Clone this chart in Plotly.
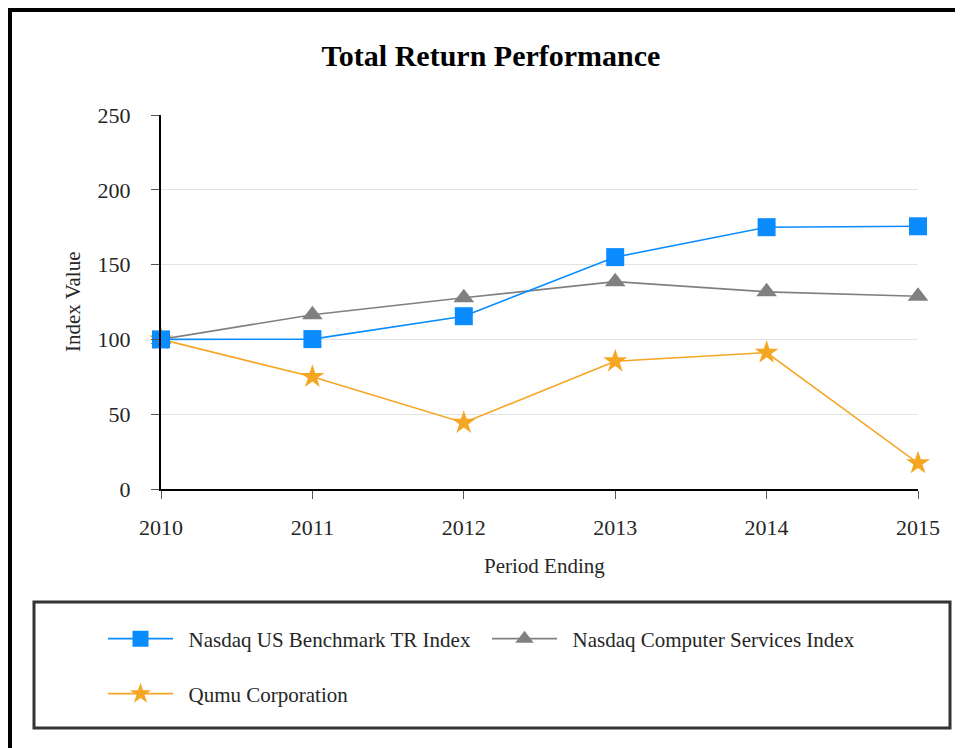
import plotly.graph_objects as go

years = [2010, 2011, 2012, 2013, 2014, 2015]
benchmark = [100, 100.2, 115.5, 155.0, 175.0, 175.6]
computer_services = [100, 116.5, 127.8, 138.6, 131.8, 128.8]
qumu = [100, 75.0, 44.3, 85.4, 91.2, 17.3]
y_ticks = [0, 50, 100, 150, 200, 250]

FONT = "Liberation Serif"
OFF = 8  # page body margin
W, H = 963, 748
# plot area in page pixels: x 161..918, y 115..489
L = 161 - OFF
R = W - (918 - OFF)
T = 115 - OFF
B = H - (489 - OFF)
PW, PH = W - L - R, H - T - B


def px(x):
    return (x - OFF - L) / PW


def py(y):
    return (H - B - (y - OFF)) / PH


def cx(x):
    return (x - OFF) / W


def cy(y):
    return 1 - (y - OFF) / H


NB = "\u00a0\u00a0"
fig = go.Figure()
# drawn bottom-to-top: Qumu, Computer Services, Benchmark (benchmark on top)
fig.add_trace(go.Scatter(
    x=years, y=qumu, name=NB + "Qumu Corporation", mode="lines+markers",
    line=dict(color="#f5a623", width=1.6),
    marker=dict(symbol="star", size=18, color="#f5a623"), legend="legend3"))
fig.add_trace(go.Scatter(
    x=years, y=computer_services, name=NB + "Nasdaq Computer Services Index", mode="lines+markers",
    line=dict(color="#808080", width=1.6),
    marker=dict(symbol="triangle-up", size=18, color="#808080"), legend="legend2"))
fig.add_trace(go.Scatter(
    x=years, y=benchmark, name=NB + "Nasdaq US Benchmark TR Index", mode="lines+markers",
    line=dict(color="#0a8cff", width=1.6),
    marker=dict(symbol="square", size=18, color="#0a8cff"), legend="legend"))

shapes = [
    # outer frame (left and top edges)
    dict(type="line", xref="paper", yref="paper", x0=px(10), x1=px(10), y0=py(8), y1=py(770),
         line=dict(color="black", width=4)),
    dict(type="line", xref="paper", yref="paper", x0=px(8), x1=px(990), y0=py(10), y1=py(10),
         line=dict(color="black", width=4)),
    # legend box
    dict(type="rect", xref="paper", yref="paper", x0=px(34), x1=px(950), y0=py(602), y1=py(728),
         line=dict(color="#333333", width=3)),
]

annotations = [
    dict(text="Period Ending", xref="paper", yref="paper", x=px(544), y=py(566),
         xanchor="center", yanchor="middle", showarrow=False,
         font=dict(family=FONT, size=21, color="#262626")),
    dict(text="Index Value", xref="paper", yref="paper", x=px(73), y=py(302),
         xanchor="center", yanchor="middle", showarrow=False, textangle=-90,
         font=dict(family=FONT, size=21, color="#262626")),
]


def leg(xp, yp):
    return dict(orientation="h", xref="container", yref="container", x=cx(xp), y=cy(yp),
                xanchor="left", yanchor="middle", itemwidth=65,
                font=dict(family=FONT, size=21, color="#262626"),
                bgcolor="rgba(0,0,0,0)", borderwidth=0)


fig.update_layout(
    width=W, height=H,
    margin=dict(l=L, r=R, t=T, b=B, autoexpand=False),
    paper_bgcolor="white", plot_bgcolor="white",
    font=dict(family=FONT, size=20, color="#262626"),
    title=dict(text="<b>Total Return Performance</b>", x=cx(491), xanchor="center",
               y=cy(55), yanchor="middle", font=dict(family=FONT, size=30, color="black")),
    xaxis=dict(range=[2010, 2015], tickvals=years, ticktext=[str(y) for y in years],
               showline=True, linecolor="black", linewidth=2, showgrid=False,
               ticks="outside", ticklen=8, tickcolor="#555", zeroline=False,
               ticklabelstandoff=10, tickfont=dict(family=FONT, size=22)),
    yaxis=dict(range=[0, 250], tickvals=y_ticks, showline=True, linecolor="black", linewidth=2,
               showgrid=True, gridcolor="#e3e3e3", gridwidth=1,
               ticks="outside", ticklen=8, tickcolor="#555", zeroline=False,
               ticklabelstandoff=16, tickfont=dict(family=FONT, size=22)),
    legend=leg(103, 639),
    legend2=leg(487, 639),
    legend3=leg(103, 694),
    shapes=shapes,
    annotations=annotations,
    showlegend=True,
)
for tr in fig.data:
    tr.cliponaxis = False

fig.write_html("out.html")
